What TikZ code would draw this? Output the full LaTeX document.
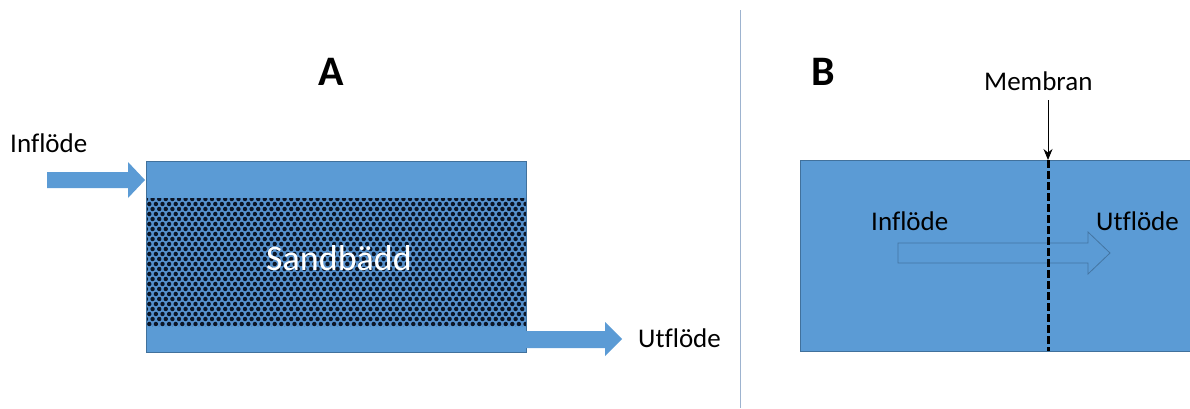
\documentclass[tikz,border=0pt]{standalone}
\usepackage{fontspec}
\setmainfont{Carlito}[Ligatures=NoCommon]
\usepackage{tikz}
\usetikzlibrary{arrows.meta, calc, positioning}
\usepackage{xcolor}

\definecolor{waterblue}{HTML}{5B9BD5}
\definecolor{edgeblue}{HTML}{41719C}
\definecolor{sandgrain}{HTML}{0B1526}
\definecolor{sandgap}{HTML}{5590CC}
\definecolor{dividerblue}{HTML}{9DB3CF}

\tikzset{
  lbl/.style={anchor=base west, inner sep=0pt, font=\fontsize{27}{30}\selectfont},
  panel/.style={anchor=base west, inner sep=0pt, font=\fontsize{42}{46}\selectfont\bfseries},
  flowarrow/.style={fill=waterblue},
  hollowarrow/.style={draw=edgeblue!90!waterblue, line width=0.8pt},
  memarrow/.style={-{Stealth[length=11pt,width=9pt]}, line width=0.8pt},
  memline/.style={line width=3pt, dash pattern=on 8pt off 3pt}
}

\begin{document}
\begin{tikzpicture}[x=1pt, y=-1pt]
  \useasboundingbox (0,0) rectangle (1190,408);

  % panel labels and divider
  \node[panel] (labA) at (318,85) {A};
  \node[panel] (labB) at (811,85) {B};
  \draw[dividerblue, line width=0.8pt] (740,10) -- (740,408);

  % --- A: sand filter ---
  \fill[waterblue] (146,161) rectangle (526,352);
  % sand bed
  \begin{scope}
    \clip (146,198) rectangle (526,326);
    \fill[sandgap] (146,198) rectangle (526,326);
    \foreach \j in {0,...,26} {
      \foreach \i in {0,...,58} {
        \fill[sandgrain] ({146+6.6*\i+3.3*mod(\j,2)},{199+5*\j}) circle (2.2);
      }
    }
  \end{scope}
  \draw[edgeblue, line width=0.8pt] (146,161) rectangle (526,352);
  \node[anchor=base, inner sep=0pt, text=white, font=\fontsize{36}{40}\selectfont]
    (sand) at (339,270) {Sandbädd};

  % in and out flow
  \fill[flowarrow] (47,172) -- (128,172) -- (128,162) -- (145,180)
    -- (128,198) -- (128,188) -- (47,188) -- cycle;
  \fill[flowarrow] (526,331) -- (605,331) -- (605,322) -- (622,339)
    -- (605,356) -- (605,348) -- (526,348) -- cycle;
  \node[lbl] (inA) at (10,152) {Inflöde};
  \node[lbl] (outA) at (638,347) {Utflöde};

  % --- B: membrane filter ---
  \fill[waterblue] (800,160) rectangle (1192,351);
  \draw[edgeblue, line width=0.8pt] (1192,160) -- (800,160) -- (800,351) -- (1192,351);
  \draw[hollowarrow] (898,243) -- (1088,243) -- (1088,232) -- (1110,253)
    -- (1088,274) -- (1088,263) -- (898,263) -- cycle;
  \coordinate (memtop) at (1048,160);
  \coordinate (membot) at (1048,351);
  \draw[memline] (memtop) -- (membot);
  \node[lbl] (membran) at (984,90) {Membran};
  \draw[memarrow, shorten <=10pt] (membran.south -| memtop) -- (memtop);
  \node[lbl] (inB) at (871,230) {Inflöde};
  \node[lbl] (outB) at (1096,230) {Utflöde};
\end{tikzpicture}
\end{document}
